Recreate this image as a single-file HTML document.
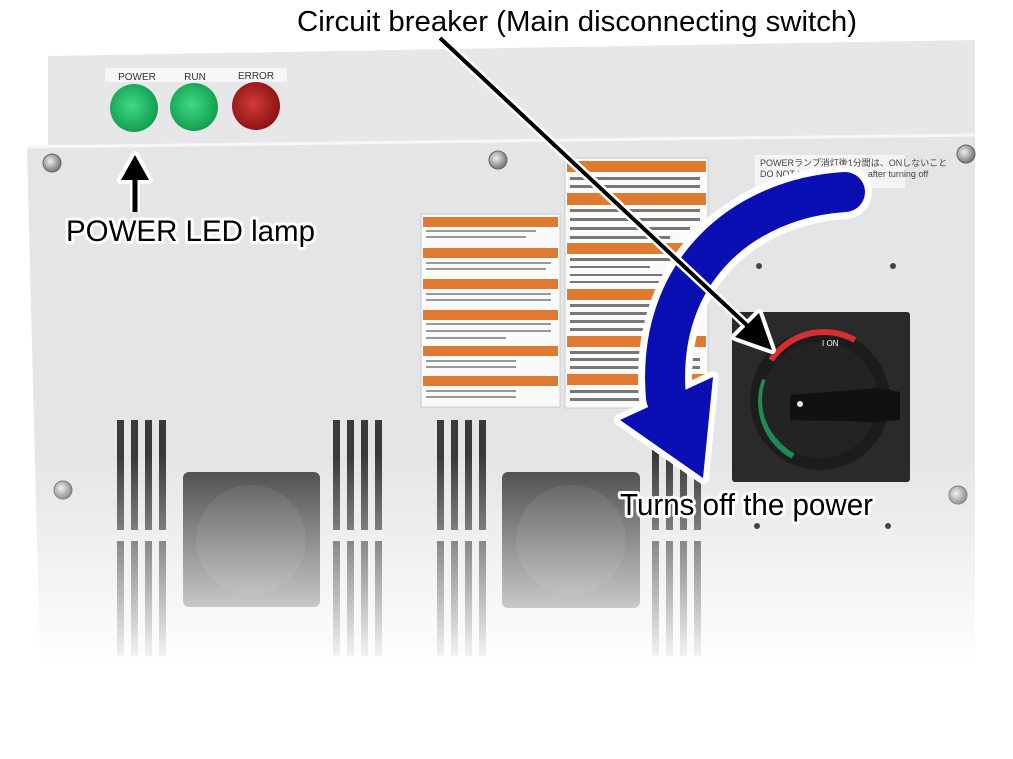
<!DOCTYPE html>
<html><head><meta charset="utf-8"><style>
html,body{margin:0;padding:0;background:#fff}
svg{display:block}
.t{font-family:"Liberation Sans",sans-serif;}
</style></head><body>
<svg width="1013" height="759" viewBox="0 0 1013 759" xmlns="http://www.w3.org/2000/svg">
<defs>
<linearGradient id="fade" x1="0" y1="0" x2="0" y2="1">
<stop offset="0" stop-color="#fff" stop-opacity="0"/>
<stop offset="0.6" stop-color="#fff" stop-opacity="0"/>
<stop offset="1" stop-color="#fff" stop-opacity="1"/>
</linearGradient>
<radialGradient id="g1" cx="0.45" cy="0.45" r="0.6"><stop offset="0" stop-color="#3fd98a"/><stop offset="1" stop-color="#0e9a48"/></radialGradient>
<radialGradient id="r1" cx="0.45" cy="0.45" r="0.6"><stop offset="0" stop-color="#d03a3a"/><stop offset="1" stop-color="#8a1010"/></radialGradient>
<radialGradient id="sc" cx="0.4" cy="0.4" r="0.6"><stop offset="0" stop-color="#eee"/><stop offset="1" stop-color="#777"/></radialGradient>
</defs>
<rect width="1013" height="759" fill="#fff"/>
<polygon points="48,56 975,40 975,140 48,148" fill="#e7e7e9"/>
<rect x="105" y="68" width="182" height="14" fill="#f6f6f6"/>
<text class="t" x="137" y="80" font-size="10" text-anchor="middle" fill="#333">POWER</text>
<text class="t" x="195" y="80" font-size="10" text-anchor="middle" fill="#333">RUN</text>
<text class="t" x="256" y="79" font-size="10" text-anchor="middle" fill="#333">ERROR</text>
<circle cx="134" cy="108" r="24" fill="url(#g1)"/>
<circle cx="194" cy="107" r="24" fill="url(#g1)"/>
<circle cx="256" cy="106" r="24" fill="url(#r1)"/>
<polygon points="27,147 975,135 975,665 40,665" fill="#e4e5e7"/>
<line x1="27" y1="147" x2="975" y2="135" stroke="#f7f7f7" stroke-width="3"/>
<g fill="url(#sc)" stroke="#666" stroke-width="1">
<circle cx="52" cy="163" r="9"/><circle cx="498" cy="160" r="9"/><circle cx="966" cy="154" r="9"/>
<circle cx="63" cy="490" r="9"/><circle cx="958" cy="495" r="9"/>
</g>
<g fill="#3a3a3c">
<rect x="117" y="420" width="7" height="110"/><rect x="131" y="420" width="7" height="110"/><rect x="145" y="420" width="7" height="110"/><rect x="159" y="420" width="7" height="110"/>
<rect x="117" y="541" width="7" height="115"/><rect x="131" y="541" width="7" height="115"/><rect x="145" y="541" width="7" height="115"/><rect x="159" y="541" width="7" height="115"/>
<rect x="333" y="420" width="7" height="110"/><rect x="347" y="420" width="7" height="110"/><rect x="361" y="420" width="7" height="110"/><rect x="375" y="420" width="7" height="110"/>
<rect x="333" y="541" width="7" height="115"/><rect x="347" y="541" width="7" height="115"/><rect x="361" y="541" width="7" height="115"/><rect x="375" y="541" width="7" height="115"/>
<rect x="437" y="420" width="7" height="110"/><rect x="451" y="420" width="7" height="110"/><rect x="465" y="420" width="7" height="110"/><rect x="479" y="420" width="7" height="110"/>
<rect x="437" y="541" width="7" height="115"/><rect x="451" y="541" width="7" height="115"/><rect x="465" y="541" width="7" height="115"/><rect x="479" y="541" width="7" height="115"/>
<rect x="652" y="420" width="7" height="110"/><rect x="666" y="420" width="7" height="110"/><rect x="680" y="420" width="7" height="110"/><rect x="694" y="420" width="7" height="110"/>
<rect x="652" y="541" width="7" height="115"/><rect x="666" y="541" width="7" height="115"/><rect x="680" y="541" width="7" height="115"/><rect x="694" y="541" width="7" height="115"/>
</g>
<rect x="183" y="472" width="137" height="135" rx="6" fill="#444446"/>
<circle cx="251" cy="540" r="55" fill="#515153"/>
<rect x="502" y="472" width="138" height="136" rx="6" fill="#444446"/>
<circle cx="571" cy="540" r="55" fill="#515153"/>
<rect x="0" y="135" width="1013" height="535" fill="url(#fade)"/>
<rect x="421" y="214" width="139" height="193" fill="#fafafa" stroke="#ccc"/>
<g fill="#e07a30">
<rect x="423" y="217" width="135" height="10"/><rect x="423" y="248" width="135" height="10"/><rect x="423" y="279" width="135" height="10"/><rect x="423" y="310" width="135" height="10"/><rect x="423" y="346" width="135" height="10"/><rect x="423" y="376" width="135" height="10"/>
</g>
<g fill="#999"><rect x="426" y="230" width="110" height="2"/><rect x="426" y="236" width="100" height="2"/><rect x="426" y="262" width="125" height="2"/><rect x="426" y="268" width="120" height="2"/><rect x="426" y="293" width="125" height="2"/><rect x="426" y="299" width="125" height="2"/><rect x="426" y="323" width="125" height="2"/><rect x="426" y="330" width="125" height="2"/><rect x="426" y="337" width="80" height="2"/><rect x="426" y="360" width="90" height="2"/><rect x="426" y="366" width="90" height="2"/><rect x="426" y="390" width="90" height="2"/><rect x="426" y="396" width="90" height="2"/></g>
<rect x="565" y="158" width="143" height="250" fill="#fafafa" stroke="#ccc"/>
<g fill="#e07a30">
<rect x="567" y="161" width="139" height="11"/><rect x="567" y="193" width="139" height="12"/><rect x="567" y="243" width="139" height="11"/><rect x="567" y="289" width="139" height="11"/><rect x="567" y="336" width="139" height="11"/><rect x="567" y="374" width="139" height="11"/>
</g>
<g fill="#777"><rect x="570" y="177" width="130" height="3"/><rect x="570" y="185" width="130" height="3"/><rect x="570" y="209" width="130" height="3"/><rect x="570" y="218" width="130" height="3"/><rect x="570" y="227" width="120" height="3"/><rect x="570" y="236" width="100" height="3"/><rect x="570" y="258" width="120" height="3"/><rect x="570" y="266" width="80" height="2"/><rect x="570" y="274" width="110" height="2"/><rect x="570" y="281" width="110" height="2"/><rect x="570" y="304" width="120" height="3"/><rect x="570" y="312" width="130" height="3"/><rect x="570" y="320" width="110" height="3"/><rect x="570" y="328" width="90" height="3"/><rect x="570" y="351" width="100" height="3"/><rect x="570" y="358" width="130" height="3"/><rect x="570" y="366" width="130" height="3"/><rect x="570" y="390" width="130" height="3"/><rect x="570" y="398" width="130" height="3"/></g>
<rect x="755" y="155" width="150" height="33" fill="#f4f4f4"/>
<text class="t" x="760" y="166" font-size="9" fill="#444">POWERランプ消灯後1分間は、ONしないこと</text>
<text class="t" x="760" y="177" font-size="9" fill="#444">DO NOT turn on for 1 min. after turning off</text>
<g fill="#444"><circle cx="759" cy="266" r="3"/><circle cx="893" cy="266" r="3"/><circle cx="757" cy="526" r="3"/><circle cx="888" cy="526" r="3"/></g>
<rect x="732" y="312" width="178" height="170" rx="3" fill="#2a2a2a"/>
<circle cx="820" cy="400" r="70" fill="#1c1c1c"/>
<path d="M771,360 A64,64 0 0 1 855,340" stroke="#d43030" stroke-width="6" fill="none"/>
<path d="M765,380 A62,62 0 0 0 793,456" stroke="#1f8a55" stroke-width="6" fill="none"/>
<circle cx="820" cy="400" r="58" fill="#232323"/>
<path d="M790,395 L880,388 L900,392 L900,420 L880,422 L790,420 Z" fill="#111"/>
<circle cx="800" cy="404" r="3" fill="#eee"/>
<text class="t" x="822" y="346" font-size="8" fill="#fff">I ON</text>
<g stroke-linejoin="round" stroke-linecap="round">
<path d="M845,192 C 745,198 655,270 666,398" stroke="#fff" stroke-width="54" fill="none"/>
<polygon points="620,420 713,377 703,478" fill="#fff" stroke="#fff" stroke-width="12"/>
<path d="M845,192 C 745,198 655,270 666,398" stroke="#0a0fb4" stroke-width="40" fill="none"/>
<polygon points="620,420 713,377 703,478" fill="#0a0fb4"/>
</g>
<g stroke-linejoin="round">
<line x1="440" y1="38" x2="752" y2="330" stroke="#fff" stroke-width="9"/>
<polygon points="772,350 735,337 759,313" fill="#fff" stroke="#fff" stroke-width="8"/>
<line x1="440" y1="38" x2="752" y2="330" stroke="#000" stroke-width="4"/>
<polygon points="772,350 735,337 759,313" fill="#000"/>
<line x1="135" y1="212" x2="135" y2="175" stroke="#fff" stroke-width="10"/>
<polygon points="135,155 121,180 149,180" fill="#fff" stroke="#fff" stroke-width="8"/>
<line x1="135" y1="212" x2="135" y2="175" stroke="#000" stroke-width="5"/>
<polygon points="135,155 121,180 149,180" fill="#000"/>
</g>
<text class="t" x="577" y="31" font-size="29" text-anchor="middle" fill="#000" textLength="560" lengthAdjust="spacingAndGlyphs">Circuit breaker (Main disconnecting switch)</text>
<g class="t" stroke="#fff" stroke-width="6" stroke-linejoin="round" paint-order="stroke" fill="#000">
<text x="66" y="241" font-size="30" textLength="249" lengthAdjust="spacingAndGlyphs">POWER LED lamp</text>
<text x="620" y="515" font-size="31" textLength="253" lengthAdjust="spacingAndGlyphs">Turns off the power</text>
</g>
</svg>
</body></html>
